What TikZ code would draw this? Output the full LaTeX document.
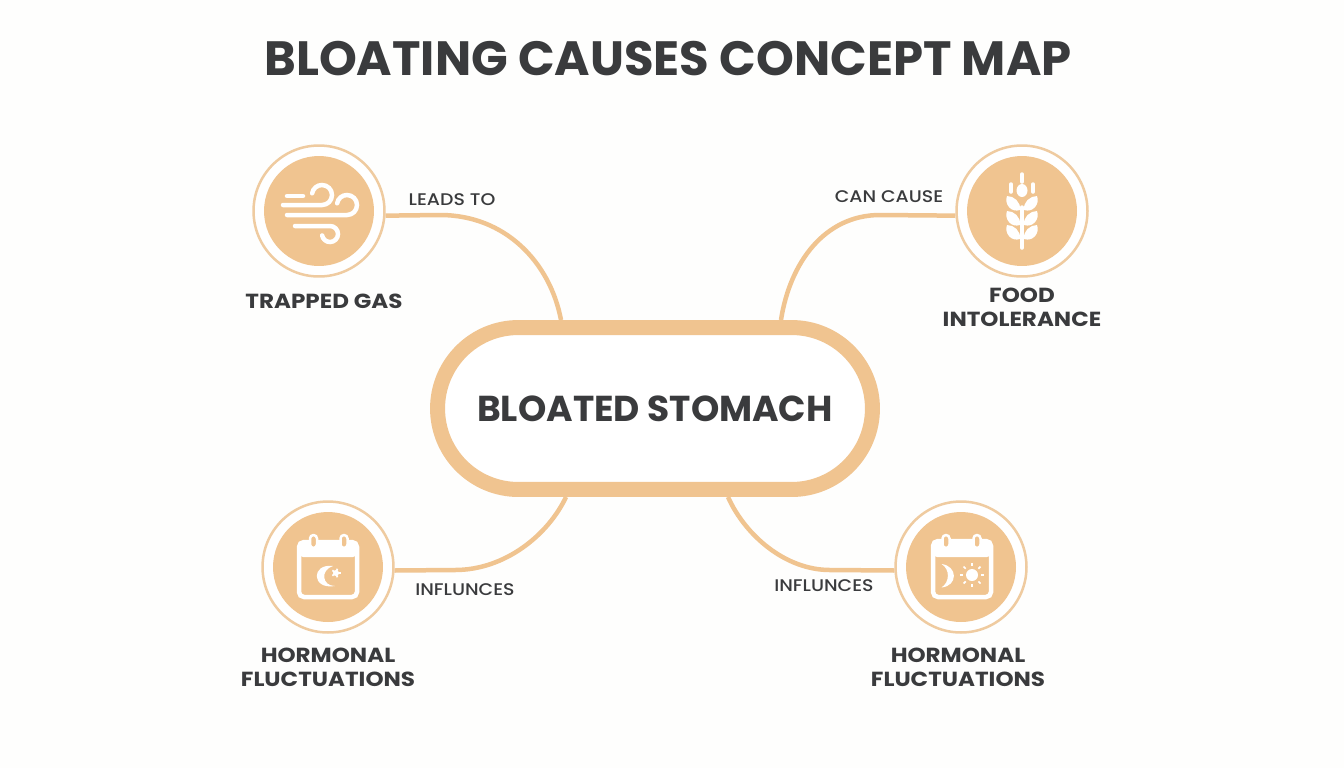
\documentclass[tikz,border=0pt]{standalone}
\usepackage{fontspec}
\setmainfont{Poppins}
\newfontfamily\causefont[FakeStretch=1.13]{Poppins}
\newfontfamily\linkfont[FakeStretch=1.12]{Poppins Medium}
\definecolor{tan}{HTML}{F0C490}
\definecolor{ringtan}{HTML}{EFCBA0}
\definecolor{ink}{HTML}{3A3B3D}
\definecolor{paper}{HTML}{FEFEFD}
\tikzset{
  ring/.style={circle, draw=ringtan, fill=white, line width=0.05cm, minimum size=2.62cm, inner sep=0pt},
  disc/.style={circle, fill=tan, minimum size=2.2cm, inner sep=0pt},
  hub/.style={rectangle, rounded corners=1.62cm, draw=tan, fill=white, line width=0.3cm, minimum width=8.7cm, minimum height=3.24cm, text=ink, font=\fontsize{20.5}{24}\selectfont\bfseries},
  link/.style={draw=tan, line width=0.09cm},
  causetext/.style={text=ink, align=center, font=\causefont\fontsize{11.6}{13.8}\selectfont\bfseries},
  linktext/.style={text=ink, font=\linkfont\fontsize{9.6}{11}\selectfont},
  icon/.style={draw=white, line width=0.09cm, line cap=round},
  thinicon/.style={icon, line width=0.07cm}
}
\begin{document}
\begin{tikzpicture}[x=0.02cm,y=-0.02cm]
            % Canvas
            \fill[paper] (0,0) rectangle (1344,768);
            \useasboundingbox (0,0) rectangle (1344,768);

            % Title
            \node[text=ink, font=\fontsize{27.4}{30}\selectfont\bfseries] (title) at (668,59) {BLOATING CAUSES CONCEPT MAP};

            % Centre and the four causes
            \node[hub] (stomach) at (655,408.5) {BLOATED STOMACH};
            \node[ring] (gas) at (319,211) {};
            \node[disc] (gasdisc) at (gas) {};
            \node[ring] (food) at (1022,211) {};
            \node[disc] (fooddisc) at (food) {};
            \node[ring] (leftcal) at (328,567) {};
            \node[disc] (leftdisc) at (leftcal) {};
            \node[ring] (rightcal) at (961,567) {};
            \node[disc] (rightdisc) at (rightcal) {};

            % Connectors
            \draw[link] (gas.-4) -- (440,215) .. controls (505,215) and (550,262) .. ([xshift=-1.88cm]stomach.north);
            \draw[link] (food.184) -- (880,215) .. controls (825,215) and (790,262) .. ([xshift=2.52cm]stomach.north);
            \draw[link] (leftcal.-3) -- (455,570) .. controls (505,570) and (548,535) .. ([xshift=-1.78cm]stomach.south);
            \draw[link] (rightcal.183) -- (830,570) .. controls (785,570) and (745,535) .. ([xshift=1.46cm]stomach.south);

            % Labels
            \node[linktext] (leads) at (452,200) {LEADS TO};
            \node[linktext] (can) at (889,197) {CAN CAUSE};
            \node[linktext] (leftinf) at (465,590) {INFLUNCES};
            \node[linktext] (rightinf) at (824,586) {INFLUNCES};
            \node[causetext] (gaslabel) at (324,301) {TRAPPED GAS};
            \node[causetext] (foodlabel) at (1022,307.5) {FOOD\\INTOLERANCE};
            \node[causetext] (leftlabel) at (328,667) {HORMONAL\\FLUCTUATIONS};
            \node[causetext] (rightlabel) at (958,667) {HORMONAL\\FLUCTUATIONS};

            % Wind icon
            \draw[icon] (287,196) -- (303,196);
            \draw[icon] (283,205) -- (322,205) arc[start angle=90, end angle=-170, radius=10];
            \draw[icon] (287,215) -- (347,215) arc[start angle=90, end angle=-170, radius=10];
            \draw[icon] (295,226) -- (330,226) arc[start angle=-90, end angle=170, radius=8];

            % Wheat icon
            \draw[thinicon] (1022,207) -- (1022,248);
            \draw[thinicon] (1022,174) -- (1022,182);
            \draw[thinicon] (1011,184) -- (1011,192);
            \draw[thinicon] (1033,184) -- (1033,192);
            \fill[white] (1022,190.5) ellipse (5.5 and 6.5);
            \foreach \y in {209,224,238}
              \foreach \s in {1,-1}
                \fill[white, shift={(1022,\y)}, xscale=\s] (2,1) .. controls (1,-7) and (8,-13) .. (15,-13) .. controls (18,-5) and (11,4) .. (2,1);

            % Calendar, left
            \draw[icon, fill=tan, rounded corners=0.1cm] (299,542) rectangle (357,597);
            \fill[white, rounded corners=0.08cm] (299,542) rectangle (357,557);
            \foreach \x in {313.5,344}
              \draw[draw=white, fill=tan, line width=0.05cm, rounded corners=0.07cm] (\x-3.5,535) rectangle (\x+3.5,548);
            \fill[white] (333,566) .. controls (311,563) and (311,590) .. (335,586) .. controls (322,586) and (320,570) .. (333,566);
            \fill[tan] (336,573) circle (5.5);
            \fill[white] (336,573) circle (3);
            \foreach \a in {0,72,...,288}
              \draw[draw=white, line width=0.035cm] (336,573) -- ++(\a:4.5);

            % Calendar, right
            \draw[icon, fill=tan, rounded corners=0.1cm] (933,541) rectangle (991,597);
            \fill[white, rounded corners=0.08cm] (933,541) rectangle (991,557);
            \foreach \x in {946,977}
              \draw[draw=white, fill=tan, line width=0.05cm, rounded corners=0.07cm] (\x-3.5,535) rectangle (\x+3.5,548);
            \fill[white] (941.5,564) .. controls (958,566) and (958,586) .. (941.5,587.5) .. controls (950,582) and (950,569) .. (941.5,564);
            \fill[white] (972,575) circle (6);
            \foreach \a in {0,45,...,315}
              \draw[draw=white, line width=0.035cm] (972,575) ++(\a:9) -- ++(\a:3);
        \end{tikzpicture}
\end{document}
